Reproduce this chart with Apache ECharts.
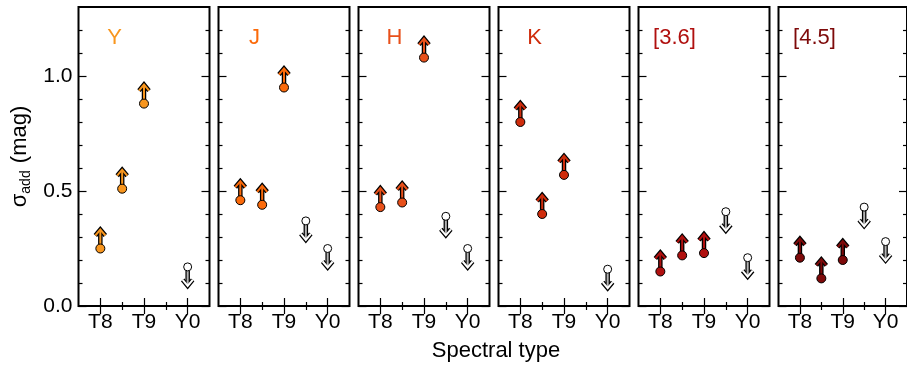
<!DOCTYPE html>
<html>
<head>
<meta charset="utf-8">
<script src="https://cdn.jsdelivr.net/npm/echarts@6/dist/echarts.min.js"></script>
<style>
  html, body { margin: 0; padding: 0; background: #fff; }
  #chart { width: 907px; height: 367px; }
</style>
</head>
<body>
<div id="chart"></div>
<script>
// Spectral types as numbers: T8 = 8, T8.5 = 8.5, T9 = 9, T9.5 = 9.5, Y0 = 10
const spectralTypes = [8, 8.5, 9, 9.5, 10];
const typeLabels = { 8: 'T8', 9: 'T9', 10: 'Y0' };
const majorX = [8, 9, 10];
const minorX = [8.5, 9.5];
const majorY = [0, 0.5, 1.0];
const minorY = [0.1, 0.2, 0.3, 0.4, 0.6, 0.7, 0.8, 0.9, 1.1, 1.2];

// 0 = lower limit (filled, arrow up), 1 = upper limit (open, arrow down)
const limitKind = [0, 0, 0, 1, 1];

const bands = ['Y', 'J', 'H', 'K', '[3.6]', '[4.5]'];
const bandColors = ['#f8961e', '#fb6a0a', '#e8501a', '#cf2c0c', '#b0100f', '#7e0a0a'];

// sigma_add (mag) per band, null where no point
const sigY   = [0.25, 0.51, 0.88, null, 0.17];
const sigJ   = [0.46, 0.44, 0.95, 0.37, 0.25];
const sigH   = [0.43, 0.45, 1.08, 0.39, 0.25];
const sigK   = [0.80, 0.40, 0.57, null, 0.16];
const sig36  = [0.15, 0.22, 0.23, 0.41, 0.21];
const sig45  = [0.21, 0.12, 0.20, 0.43, 0.28];
const sigmas = [sigY, sigJ, sigH, sigK, sig36, sig45];

const FONT = '"Liberation Sans", Arial, Helvetica, sans-serif';
const panelLeft = i => 78.5 + 140 * i;
const PANEL_W = 131, PANEL_TOP = 7, PANEL_H = 299;

const chart = echarts.init(document.getElementById('chart'));

function makeRenderer(color) {
  return function (params, api) {
    const p = api.coord([api.value(0), api.value(1)]);
    const kind = api.value(2);
    const L = 19, hw = 5, hh = 6;
    const up = kind === 0;
    const tip = up ? p[1] - L : p[1] + L;
    const dir = up ? 1 : -1;
    const shaft = { x1: p[0], y1: p[1], x2: p[0], y2: tip + dir };
    const head = { points: [[p[0] - hw, tip + dir * hh], [p[0], tip], [p[0] + hw, tip + dir * hh]] };
    const inner = up ? color : '#b4b4b4';
    const headInner = up ? color : '#fff';
    return {
      type: 'group',
      children: [
        { type: 'line', shape: shaft, style: { stroke: '#000', lineWidth: 4.5 } },
        { type: 'polyline', shape: head, style: { stroke: '#000', lineWidth: 4.5, fill: null } },
        { type: 'line', shape: shaft, style: { stroke: inner, lineWidth: 2 } },
        { type: 'polyline', shape: head, style: { stroke: headInner, lineWidth: 2, fill: null } },
        { type: 'circle', shape: { cx: p[0], cy: p[1], r: up ? 4.5 : 4 },
          style: { fill: up ? color : '#fff', stroke: '#000', lineWidth: 1 } }
      ]
    };
  };
}

const grids = [], xAxes = [], yAxes = [], series = [], graphics = [];

bands.forEach((band, i) => {
  grids.push({
    left: panelLeft(i), top: PANEL_TOP, width: PANEL_W, height: PANEL_H,
    show: true, borderColor: '#000', borderWidth: 2, backgroundColor: 'transparent'
  });
  const tickStyle = { color: '#000', width: 1.2 };
  const baseX = {
    gridIndex: i, type: 'value', min: 7.5, max: 10.5,
    axisLine: { show: false }, splitLine: { show: false }
  };
  xAxes.push(Object.assign({}, baseX, {
    position: 'bottom',
    axisTick: { inside: true, length: 8, customValues: majorX, lineStyle: tickStyle },
    axisLabel: { customValues: majorX, formatter: v => typeLabels[v] || '',
      color: '#000', fontSize: 21, fontFamily: FONT, margin: 6 }
  }));
  xAxes.push(Object.assign({}, baseX, {
    position: 'bottom',
    axisTick: { inside: true, length: 4, customValues: minorX, lineStyle: tickStyle },
    axisLabel: { show: false }
  }));
  xAxes.push(Object.assign({}, baseX, {
    position: 'top',
    axisTick: { inside: true, length: 8, customValues: majorX, lineStyle: tickStyle },
    axisLabel: { show: false }
  }));
  xAxes.push(Object.assign({}, baseX, {
    position: 'top',
    axisTick: { inside: true, length: 4, customValues: minorX, lineStyle: tickStyle },
    axisLabel: { show: false }
  }));

  const baseY = {
    gridIndex: i, type: 'value', min: 0, max: 1.3,
    axisLine: { show: false }, splitLine: { show: false }
  };
  const leftMajor = Object.assign({}, baseY, {
    position: 'left',
    axisTick: { inside: true, length: 8, customValues: majorY, lineStyle: tickStyle },
    axisLabel: { show: i === 0, customValues: majorY, formatter: v => v.toFixed(1),
      color: '#000', fontSize: 21, fontFamily: FONT, margin: 6 }
  });
  if (i === 0) {
    Object.assign(leftMajor, {
      name: '{a|σ}{s|add}{a| (mag)}',
      nameLocation: 'middle', nameGap: 45, nameRotate: 90,
      nameTextStyle: {
        rich: {
          a: { fontSize: 22, fontFamily: FONT, color: '#000', lineHeight: 28, verticalAlign: 'middle' },
          s: { fontSize: 14, fontFamily: FONT, color: '#000', lineHeight: 28, verticalAlign: 'bottom', padding: [7, 1, 0, 0] }
        }
      }
    });
  }
  yAxes.push(leftMajor);
  yAxes.push(Object.assign({}, baseY, {
    position: 'left',
    axisTick: { inside: true, length: 4, customValues: minorY, lineStyle: tickStyle },
    axisLabel: { show: false }
  }));
  yAxes.push(Object.assign({}, baseY, {
    position: 'right',
    axisTick: { inside: true, length: 8, customValues: majorY, lineStyle: tickStyle },
    axisLabel: { show: false }
  }));
  yAxes.push(Object.assign({}, baseY, {
    position: 'right',
    axisTick: { inside: true, length: 4, customValues: minorY, lineStyle: tickStyle },
    axisLabel: { show: false }
  }));

  const data = [];
  sigmas[i].forEach((v, k) => {
    if (v !== null) data.push([spectralTypes[k], v, limitKind[k]]);
  });
  series.push({
    type: 'custom', name: band,
    xAxisIndex: 4 * i, yAxisIndex: 4 * i,
    renderItem: makeRenderer(bandColors[i]),
    data: data, clip: false, z: 5
  });

  graphics.push({
    type: 'text', x: panelLeft(i) + 36, y: 38,
    style: { text: band, font: '22px ' + FONT, fill: bandColors[i], align: 'center', verticalAlign: 'middle' }
  });
});

graphics.push({
  type: 'text', x: 496, y: 351,
  style: { text: 'Spectral type', font: '22px ' + FONT, fill: '#000', align: 'center', verticalAlign: 'middle' }
});

chart.setOption({
  animation: false,
  grid: grids,
  xAxis: xAxes,
  yAxis: yAxes,
  series: series,
  graphic: graphics
});
</script>
</body>
</html>
